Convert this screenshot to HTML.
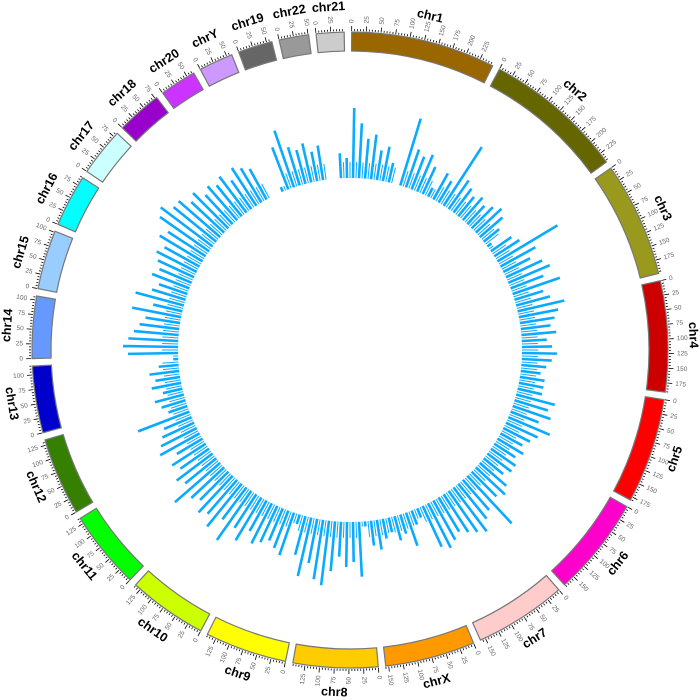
<!DOCTYPE html>
<html><head><meta charset="utf-8"><style>
html,body{margin:0;padding:0;background:#fff;width:700px;height:700px;overflow:hidden}
svg{display:block;font-family:"Liberation Sans","DejaVu Sans",sans-serif}
</style></head><body>
<svg id="chart" width="700" height="700" viewBox="0 0 700 700"></svg>
<script>
const chromNames = ["chr1","chr2","chr3","chr4","chr5","chr6","chr7","chrX","chr8","chr9","chr10","chr11","chr12","chr13","chr14","chr15","chr16","chr17","chr18","chr20","chrY","chr19","chr22","chr21"];
const chromSizes = [249,243,198,191,181,171,159,155,146,141,136,135,134,115,107,102,90,83,78,63,59,59,51,48];
const chromColors = ["#996600","#666600","#99991E","#CC0000","#FF0000","#FF00CC","#FFCCCC","#FF9900","#FFCC00","#FFFF00","#CCFF00","#00FF00","#358000","#0000CC","#6699FF","#99CCFF","#00FFFF","#CCFFFF","#9900CC","#CC33FF","#CC99FF","#666666","#999999","#CCCCCC"];
// histogram values, one per 2 degree bin clockwise from top
const histValues = [70,55,40,45,30,35,20,0,70,40,35,40,30,10,30,25,70,35,30,25,30,25,30,35,30,20,5,25,30,70,40,30,40,45,35,50,30,35,48,40,35,30,35,25,30,35,30,25,20,25,25,25,40,35,40,30,45,35,30,25,30,25,30,30,25,35,40,35,65,40,45,55,50,45,40,45,50,45,10,15,35,20,25,15,20,30,25,5,55,40,45,35,50,65,60,45,60,40,10,45,40,35,40,45,35,50,40,60,40,55,45,50,40,45,60,40,45,35,40,30,45,40,35,30,55,20,25,30,20,30,25,30,20,5,50,55,50,45,40,35,50,30,50,35,30,40,35,40,45,40,50,45,60,65,55,55,45,50,40,45,40,45,35,45,40,35,0,0,5,45,60,40,35,40,30,35,0,0,25,20];

const svg=document.getElementById('chart');
const NS='http://www.w3.org/2000/svg';
const CX=350,CY=350,R_IN=299,R_OUT=318,GAP=1.35;
const total=chromSizes.reduce((a,b)=>a+b,0);
const degPerMb=(360-GAP*chromSizes.length)/total;
function pt(r,deg){const a=deg*Math.PI/180;return [CX+r*Math.sin(a),CY-r*Math.cos(a)];}
function mk(tag,attrs,parent){const e=document.createElementNS(NS,tag);for(const k in attrs)e.setAttribute(k,attrs[k]);(parent||svg).appendChild(e);return e;}

// histogram
const hg=mk('g',{});


const HB=172, binDeg=360/histValues.length;
histValues.forEach((v,i)=>{
  if(v<=0)return;
  const th=i*binDeg+binDeg/2;
  const p1=pt(HB,th),p2=pt(HB+v,th);
  const l=mk('line',{x1:p1[0],y1:p1[1],x2:p2[0],y2:p2[1],stroke:'#0AAAFF','stroke-width':2.6},hg);
  
  
  const q=pt(HB,th+binDeg/2);
  const p3=pt(HB+Math.min(v,16),th+binDeg/2);
  const l2=mk('line',{x1:q[0],y1:q[1],x2:p3[0],y2:p3[1],stroke:'#0AAAFF','stroke-width':1},hg);
  
  
});

// ideogram
let start=0.3;
chromNames.forEach((name,i)=>{
  const size=chromSizes[i];
  const a0=start,a1=start+size*degPerMb;
  const g=mk('g',{});
  
  
  const o0=pt(R_OUT,a0),o1=pt(R_OUT,a1),i1=pt(R_IN,a1),i0=pt(R_IN,a0);
  const large=(a1-a0)>180?1:0;
  const d=`M${o0[0]},${o0[1]} A${R_OUT},${R_OUT} 0 ${large} 1 ${o1[0]},${o1[1]} L${i1[0]},${i1[1]} A${R_IN},${R_IN} 0 ${large} 0 ${i0[0]},${i0[1]} Z`;
  const band=mk('path',{d:d,fill:chromColors[i],stroke:'#777','stroke-width':1.2},g);
  
  
  for(let m=0;m<=size;m+=5){
    const th=a0+m*degPerMb;
    const major=m%25===0;
    const p1=pt(R_OUT+1,th),p2=pt(R_OUT+(major?6:3),th);
    mk('line',{x1:p1[0],y1:p1[1],x2:p2[0],y2:p2[1],stroke:'#000','stroke-width':0.8},g);
    if(major){
      const p=pt(R_OUT+9,th);
      const left=(th%360)>=180;
      const rot=left?th+90:th-90;
      const t=mk('text',{x:p[0],y:p[1],'font-size':6.5,fill:'#666','text-anchor':left?'end':'start','dominant-baseline':'middle',transform:`rotate(${rot} ${p[0]} ${p[1]})`},g);
      t.textContent=m;
      
      
    }
  }
  const mid=(a0+a1)/2;
  const lp=pt(343,mid);
  const bottom=mid>90&&mid<270;
  const rot=bottom?mid-180:mid;
  const lt=mk('text',{x:lp[0],y:lp[1],'font-size':12.5,'font-weight':'bold',fill:'#000','text-anchor':'middle','dominant-baseline':'middle',transform:`rotate(${rot} ${lp[0]} ${lp[1]})`},g);
  lt.textContent=name;
  
  
  start=a1+GAP;
});
</script>
</body></html>
